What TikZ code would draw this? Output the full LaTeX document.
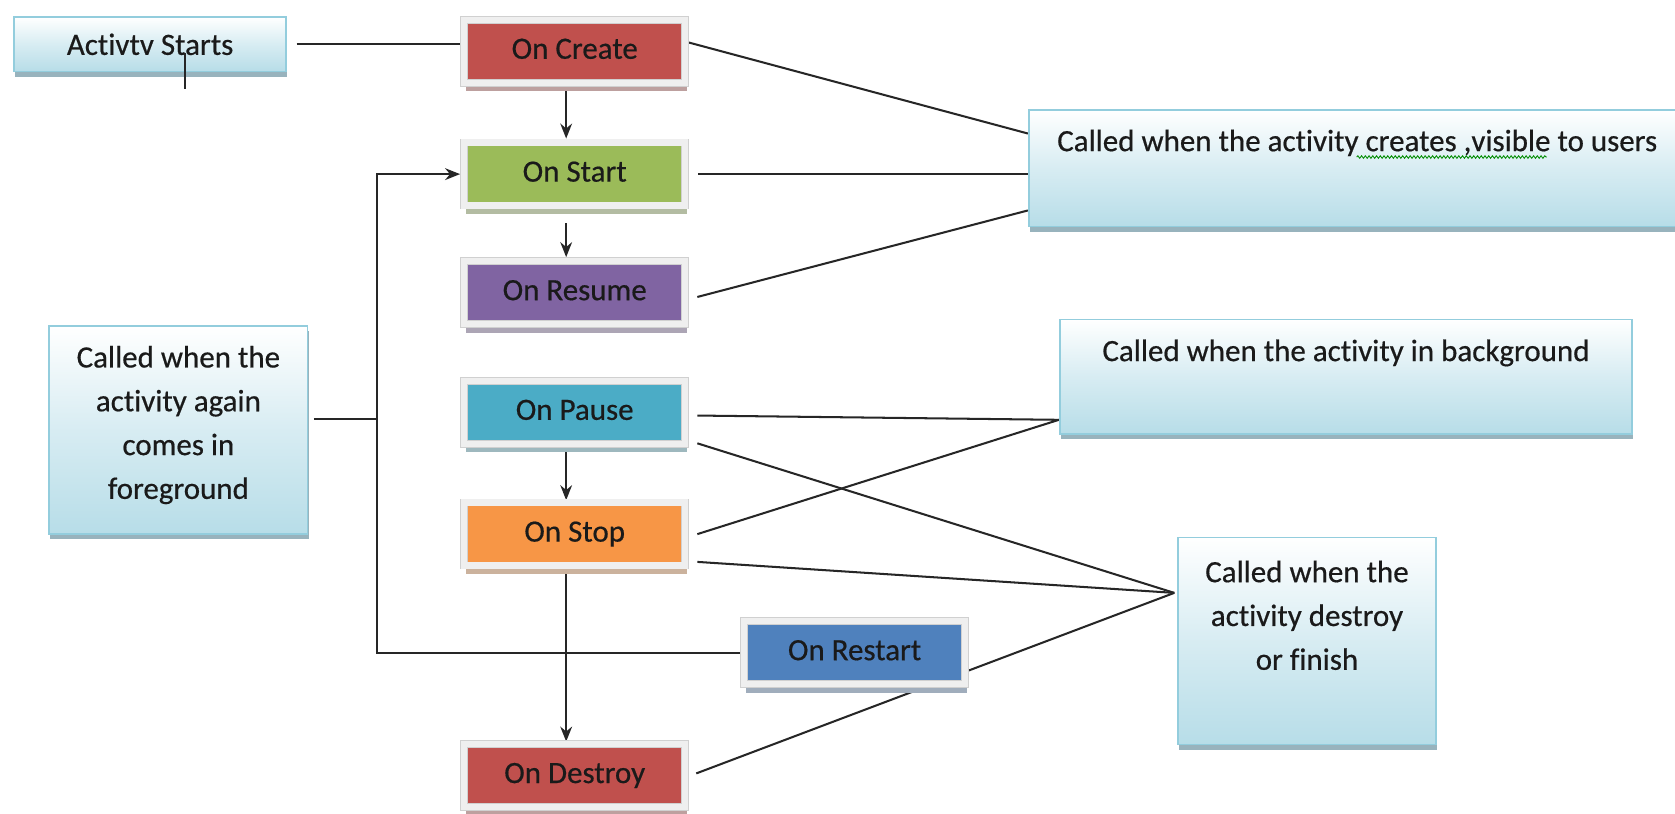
\documentclass[tikz,border=0pt]{standalone}
\usepackage{fontspec}
\setmainfont{Carlito}[Ligatures=CommonOff, FakeBold=0.5]
\usetikzlibrary{arrows.meta,shadows,backgrounds,decorations.pathmorphing}
\definecolor{cred}{HTML}{C0504D}
\definecolor{cgreen}{HTML}{9BBB59}
\definecolor{cpurple}{HTML}{8064A2}
\definecolor{cteal}{HTML}{4BACC6}
\definecolor{corange}{HTML}{F79646}
\definecolor{cblue}{HTML}{4F81BD}
\definecolor{framec}{HTML}{EFEFEF}
\definecolor{frameedge}{HTML}{D0D0D0}
\definecolor{infob}{HTML}{B7DDE8}
\definecolor{infoedge}{HTML}{93CDDD}
\definecolor{infoshadow}{HTML}{98B3BD}
\definecolor{txt}{HTML}{1A1A1A}
\definecolor{lin}{HTML}{262626}
\newcommand{\mytabc}[2]{\raisebox{#1}[0pt][0pt]{\begin{tabular}{@{}c@{}}#2\end{tabular}}}
\begin{document}
\begin{tikzpicture}[x=1pt,y=-1pt,
  every node/.style={font=\fontsize{29}{41}\selectfont, text=txt},
  mbox/.style={rectangle, draw=frameedge, line width=0.6pt, double=framec, double distance=6pt,
     fill=#1, minimum width=207pt, minimum height=59pt, inner sep=0pt,
     text height=20pt, text depth=6pt,
     drop shadow={shadow xshift=2pt, shadow yshift=-8pt, fill=#1!40!gray!65!white, opacity=1}},
  ibox/.style={rectangle, draw=infoedge, line width=1.5pt, top color=white, bottom color=infob,
     middle color=infob!55!white, inner sep=0pt,
     drop shadow={shadow xshift=1pt, shadow yshift=-5pt, fill=infoshadow, opacity=1}},
  conn/.style={draw=lin, line width=1.9pt},
  arr/.style={conn, -{Stealth[length=14pt,width=11pt]}},
]
\useasboundingbox (0,0) rectangle (1568,762);
\clip (0,0) rectangle (1568,762);

% left / top boxes
\node[ibox, minimum width=255pt, minimum height=51pt] (act) at (140.5,41.5) {Activtv Starts};
\node[ibox, minimum width=242pt, minimum height=195pt] (fg) at (167,402.5)
  {\mytabc{-1pt}{Called when the\\activity again\\comes in\\foreground}};

% lifecycle boxes
\node[mbox=cred]    (create)  at (538,48)  {On Create};
\node[mbox=cgreen]  (start)   at (538,163) {On Start};
\node[mbox=cpurple] (resume)  at (538,274) {On Resume};
\node[mbox=cteal]   (pause)   at (538,386) {On Pause};
\node[mbox=corange] (stop)    at (538,500) {On Stop};
\node[mbox=cblue]   (restart) at (800,611) {On Restart};
\node[mbox=cred]    (destroy) at (538,726) {On Destroy};

% right info boxes
\node[ibox, minimum width=615pt, minimum height=109pt] (info1) at (1270.5,157.5)
  {\raisebox{16pt}[0pt][0pt]{Called when the activity creates ,visible to users}};
\node[ibox, minimum width=536pt, minimum height=107pt] (info2) at (1260,352.5)
  {\raisebox{14.5pt}[0pt][0pt]{Called when the activity in background}};
\node[ibox, minimum width=241pt, minimum height=194pt] (info3) at (1223.5,600)
  {\mytabc{16pt}{Called when the\\activity destroy\\or finish}};

% helper coordinates
\coordinate (loopc) at ([xshift=-343pt]restart.west);
\coordinate (fgout) at ([xshift=5pt,yshift=10.5pt]fg.east);
\coordinate (i1a)   at ([yshift=32.5pt]info1.west);
\coordinate (i1c)   at ([yshift=-39.5pt]info1.west);
\coordinate (i2in)  at ([yshift=-40.5pt]info2.west);
\coordinate (i3in)  at ([xshift=-3pt,yshift=45pt]info3.west);
\coordinate (tick)  at ([xshift=32.5pt,yshift=-8.5pt]act.center);

\begin{scope}[on background layer]
  \fill[white] (0,0) rectangle (1568,762);
  \draw[conn] ([xshift=9pt]act.east) -- (act.east -| create.west);
  \draw[arr] ([xshift=-8pt]create.south) -- ([xshift=-8pt,yshift=3.5pt]start.north);
  \draw[arr] ([xshift=-8pt,yshift=-16pt]start.south) -- ([xshift=-8pt,yshift=3.5pt]resume.north);
  \draw[arr] ([xshift=-8pt]pause.south) -- ([xshift=-8pt,yshift=2pt]stop.north);
  \draw[arr] ([xshift=-8pt]stop.south) -- ([xshift=-8pt,yshift=2pt]destroy.north);
  \draw[arr] (restart.west) -- (loopc) |- ([xshift=-3.5pt]start.west);
  \draw[conn] (fgout) -- (fgout -| loopc);
  \draw[conn] ([yshift=9pt]create.east) -- (i1a);
  \draw[conn] ([xshift=12pt]start.east) -- (start.east -| info1.west);
  \draw[conn] ([xshift=11pt,yshift=-4pt]resume.east) -- (i1c);
  \draw[conn] ([xshift=11pt,yshift=-3pt]pause.east) -- (i2in);
  \draw[conn] ([xshift=11pt]stop.east) -- (i2in);
  \draw[conn] ([xshift=11pt,yshift=-29pt]pause.east) -- (i3in);
  \draw[conn] ([xshift=11pt,yshift=-26pt]stop.east) -- (i3in);
  \draw[conn] ([xshift=10pt,yshift=2pt]destroy.east) -- (i3in);
\end{scope}

% marks drawn over the boxes
\draw[conn] (tick) -- ++(0,33);
\draw[green!55!black, line width=0.8pt, decorate,
  decoration={snake, amplitude=1.2pt, segment length=3.5pt}]
  ([xshift=-0.5pt,yshift=10.5pt]info1.center) -- ([xshift=177.5pt,yshift=10.5pt]info1.center);
\end{tikzpicture}
\end{document}
